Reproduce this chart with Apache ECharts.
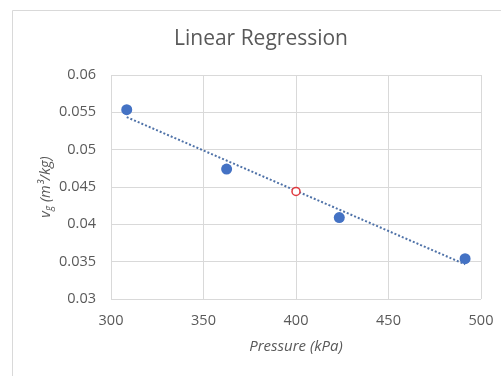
<!DOCTYPE html>
<html>
<head>
<meta charset="utf-8">
<script src="https://cdn.jsdelivr.net/npm/echarts@6/dist/echarts.min.js"></script>
<style>html,body{margin:0;padding:0;background:#fff}#c{width:501px;height:376px}</style>
</head>
<body>
<div id="c"></div>
<script>
const pressure = [308.5, 362.5, 423.4, 491.4];
const volume = [0.05535, 0.0474, 0.0409, 0.0354];
const interpP = [400];
const interpV = [0.0444];
const trendP = [308.5, 491.4];
const trendV = [0.05436, 0.03464];
const xTicks = [300, 350, 400, 450, 500];
const yTicks = [0.03, 0.035, 0.04, 0.045, 0.05, 0.055, 0.06];

const font = '"Open Sans", "Noto Sans", sans-serif';
const chart = echarts.init(document.getElementById('c'), null, {renderer: 'canvas'});
chart.setOption({
  animation: false,
  backgroundColor: '#fff',
  graphic: [{
    type: 'rect', left: 10, top: 8, shape: {width: 520, height: 400},
    style: {fill: 'none', stroke: '#d9d9d9', lineWidth: 1}, silent: true
  }],
  title: {
    text: 'Linear Regression', left: 174, top: 29,
    textStyle: {fontFamily: font, fontSize: 21, fontWeight: 'normal', color: '#595959'},
    padding: 0, itemGap: 0
  },
  grid: {left: 111, right: 20, top: 75, bottom: 77},
  xAxis: {
    type: 'value', min: xTicks[0], max: xTicks[xTicks.length - 1], interval: 50,
    name: 'Pressure (kPa)', nameLocation: 'middle', nameGap: 40,
    nameTextStyle: {fontFamily: font, fontSize: 15, fontStyle: 'italic', color: '#595959'},
    axisLine: {show: false}, axisTick: {show: false},
    axisLabel: {fontFamily: font, fontSize: 14.5, color: '#595959', margin: 14},
    splitLine: {show: true, lineStyle: {color: '#d9d9d9', width: 1}}
  },
  yAxis: {
    type: 'value', min: yTicks[0], max: yTicks[yTicks.length - 1], interval: 0.005,
    name: '{v|v}{s|g}{v| (m³/kg)}', nameLocation: 'middle', nameGap: 57, nameRotate: 90,
    nameMoveOverlap: false,
    nameTextStyle: {
      fontFamily: font, fontSize: 14.5, fontStyle: 'italic', color: '#595959',
      rich: {
        v: {fontFamily: font, fontSize: 14.5, fontStyle: 'italic', color: '#595959'},
        s: {fontFamily: font, fontSize: 10, fontStyle: 'italic', color: '#595959', verticalAlign: 'bottom', padding: [7, 0, 0, 0]}
      }
    },
    axisLine: {show: false}, axisTick: {show: false},
    axisLabel: {fontFamily: font, fontSize: 14.5, color: '#595959', margin: 15,
      formatter: v => String(+v.toFixed(3))},
    splitLine: {show: true, lineStyle: {color: '#d9d9d9', width: 1}}
  },
  series: [
    {
      type: 'line', data: trendP.map((p, i) => [p, trendV[i]]), symbol: 'none', z: 2,
      lineStyle: {color: '#4f72a8', width: 2, type: [2, 2]}
    },
    {
      type: 'scatter', data: pressure.map((p, i) => [p, volume[i]]), symbol: 'circle', symbolSize: 11, z: 3,
      itemStyle: {color: '#4472c4', opacity: 1}
    },
    {
      type: 'scatter', data: interpP.map((p, i) => [p, interpV[i]]), symbol: 'circle', symbolSize: 8, z: 4,
      itemStyle: {color: '#ffffff', borderColor: '#e0393e', borderWidth: 1.5, opacity: 1}
    }
  ]
});
</script>
</body>
</html>
